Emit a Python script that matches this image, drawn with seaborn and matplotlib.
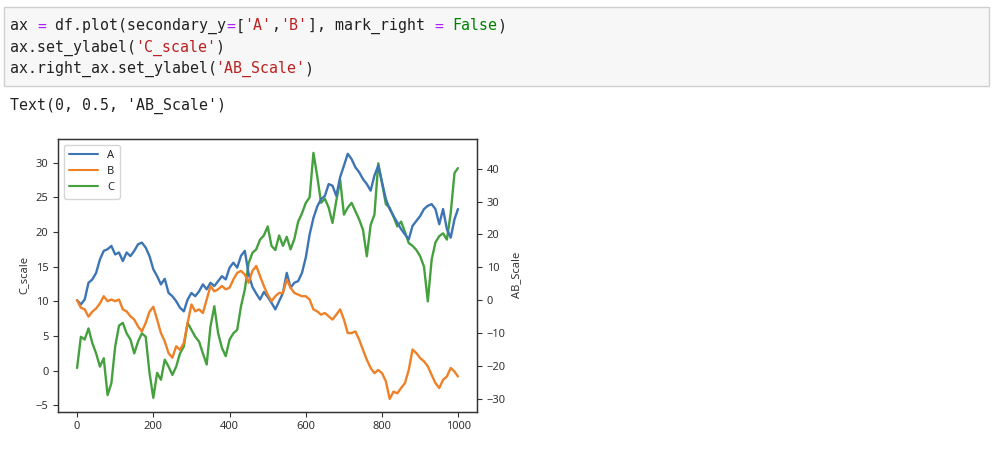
import numpy as np
import pandas as pd
import matplotlib
matplotlib.use("Agg")
import matplotlib.pyplot as plt
import seaborn as sns
from matplotlib.lines import Line2D

# index positions (read every 10 steps off the picture)
idx = list(range(0, 1000, 10)) + [999]

# series A and B sit on the secondary (right) axis
a_vals = [0, -1.3, 0.2, 5.3, 6.3, 8.3, 12.4, 15.0, 15.5, 16.5,
          13.9, 14.5, 11.9, 14.5, 13.4, 15.0, 17.0, 17.5, 16.0, 13.4,
          9.4, 7.3, 4.8, 6.5, 2.2, 1.2, -0.3, -2.3, -3.4, 0.2,
          2.2, 1.2, 2.7, 4.8, 3.3, 5.3, 4.3, 5.8, 7.3, 6.3,
          9.9, 11.4, 9.9, 13.5, 15.0, 8.0, 4.0, 2.0, 0.2, 2.5,
          1.0, -0.8, -2.8, -0.3, 2.2, 8.3, 3.8, 5.3, 5.8, 8.3,
          13.0, 20.0, 25.0, 28.5, 30.7, 31.7, 35.3, 34.8, 31.7, 37.4,
          40.9, 44.5, 42.9, 40.4, 38.9, 36.8, 35.3, 33.3, 37.9, 40.9,
          35.8, 30.7, 27.7, 25.6, 23.6, 21.6, 20.0, 18.5, 22.6, 24.1,
          25.6, 27.7, 28.7, 29.2, 27.7, 23.1, 27.7, 21.6, 19.0, 24.6,
          27.7]
b_vals = [0, -2.3, -2.8, -5.0, -3.5, -2.5, -1.0, 1.2, -0.3, 0.2,
          -0.3, 0.2, -2.8, -3.4, -4.9, -5.9, -8.0, -9.5, -6.9, -3.5,
          -2.0, -5.9, -10.0, -12.5, -16.1, -17.5, -14.0, -15.1, -13.0, -6.9,
          -1.3, -3.4, -2.8, -3.9, 0.2, 4.3, 2.7, 3.3, 4.3, 3.3,
          3.8, 6.3, 8.3, 8.9, 7.8, 5.3, 8.9, 10.4, 7.3, 4.3,
          1.7, -0.3, 1.2, 2.2, 2.2, 6.3, 3.8, 2.2, 1.7, 1.2,
          1.2, 0.2, -2.8, -3.4, -4.4, -3.9, -4.9, -5.9, -4.4, -2.8,
          -5.9, -10.0, -10.0, -9.5, -12.0, -15.1, -18.1, -20.6, -22.2, -21.2,
          -22.2, -24.7, -30.0, -27.8, -28.3, -26.7, -25.2, -21.2, -15.0, -16.1,
          -17.6, -18.6, -20.1, -22.7, -25.2, -26.7, -24.2, -23.2, -20.6, -21.7,
          -23.2]

# series C on the primary (left) axis
c_vals = [0.4, 4.9, 4.5, 6.1, 4.0, 2.5, 0.6, 1.8, -3.5, -1.8,
          3.5, 6.5, 6.9, 5.4, 4.5, 2.5, 4.2, 5.4, 4.9, -0.3,
          -3.9, -0.3, -1.3, 1.6, 0.6, -0.6, 0.6, 2.5, 3.5, 6.9,
          5.9, 4.9, 4.2, 2.5, 0.9, 6.4, 9.3, 5.4, 3.3, 2.1,
          4.5, 5.4, 5.9, 9.3, 11.7, 15.5, 17.0, 17.5, 18.9, 19.5,
          20.8, 18.0, 17.4, 19.5, 18.0, 19.3, 17.5, 19.0, 21.5, 22.7,
          24.2, 25.0, 31.4, 28.0, 24.2, 24.8, 23.5, 21.3, 24.5, 27.5,
          22.5, 23.5, 24.2, 23.0, 21.8, 20.3, 16.5, 21.0, 22.5, 29.9,
          27.0, 24.0, 23.5, 22.2, 20.8, 21.5, 20.0, 18.4, 18.0, 17.4,
          16.5, 15.0, 10.0, 16.0, 18.5, 19.4, 19.8, 18.9, 22.7, 28.5,
          29.2]

series_names = ["A", "B", "C"]
left_ticks = [-5, 0, 5, 10, 15, 20, 25, 30]
right_ticks = [-30, -20, -10, 0, 10, 20, 30, 40]
x_ticks = [0, 200, 400, 600, 800, 1000]

df = pd.DataFrame({"A": a_vals, "B": b_vals, "C": c_vals}, index=idx)

sns.set_theme(style="ticks")
plt.rcParams["font.family"] = ["Noto Sans", "DejaVu Sans"]
colors = ["#3d75b4", "#ee8128", "#45a03e"]
W, H = 997, 472

fig = plt.figure(figsize=(W / 100, H / 100), dpi=100)
fig.patch.set_facecolor("white")

# --- notebook code cell drawn as text ---
def px(x, y):
    return x / W, 1 - y / H

cell = plt.Rectangle(px(3.5, 86), (989 - 3.5) / W, (86 - 7.5) / H,
                     transform=fig.transFigure, facecolor="#f7f7f7",
                     edgecolor="#cfcfcf", lw=1)
fig.patches.append(cell)

mono = "DejaVu Sans Mono"
code_lines = [
    (26, 9.02, [("ax ", "#212121"), ("=", "#aa22ff"), (" df.plot(secondary_y", "#212121"),
                ("=", "#aa22ff"), ("[", "#212121"), ("'A'", "#ba2121"), (",", "#212121"),
                ("'B'", "#ba2121"), ("], mark_right ", "#212121"), ("=", "#aa22ff"),
                (" ", "#212121"), ("False", "#008000"), (")", "#212121")]),
    (47.5, 8.93, [("ax.set_ylabel(", "#212121"), ("'C_scale'", "#ba2121"), (")", "#212121")]),
    (68.5, 8.93, [("ax.right_ax.set_ylabel(", "#212121"), ("'AB_Scale'", "#ba2121"),
                  (")", "#212121")]),
    (106, 8.93, [("Text(0, 0.5, 'AB_Scale')", "#212121")]),
]
for y, cw, parts in code_lines:
    col = 0
    for txt, c in parts:
        fig.text(*px(10 + col * cw, y), txt, family=mono, fontsize=10.7,
                 color=c, va="center", ha="left")
        col += len(txt)

# --- the chart ---
ax = fig.add_axes([58 / W, 1 - 411.7 / H, (477 - 58) / W, (411.7 - 139) / H])
ax2 = ax.twinx()

sns.lineplot(data=df, x=df.index, y="C", ax=ax, color=colors[2], lw=1.7)
sns.lineplot(data=df, x=df.index, y="A", ax=ax2, color=colors[0], lw=1.7)
sns.lineplot(data=df, x=df.index, y="B", ax=ax2, color=colors[1], lw=1.7)

ax.set_xlim(-50, 1049)
ax.set_ylim(-5.9, 33.4)
ax2.set_ylim(-33.9, 49.0)
ax.set_xticks(x_ticks)
ax.set_yticks(left_ticks)
ax2.set_yticks(right_ticks)
ax.set_xlabel("")
ax.set_ylabel("C_scale", fontsize=8, color="#333333", labelpad=4)
ax2.set_ylabel("AB_Scale", fontsize=8, color="#333333", labelpad=4)

for a in (ax, ax2):
    a.tick_params(labelsize=8, colors="#333333", length=3.5, width=0.8)
    for s in a.spines.values():
        s.set_color("#333333")
        s.set_linewidth(0.9)

handles = [Line2D([], [], color=colors[i], lw=1.5) for i in range(3)]
leg = ax2.legend(handles, series_names, loc="upper left", fontsize=8,
                 frameon=True, handlelength=2.6, borderpad=0.5, labelspacing=0.45)
leg.get_frame().set_edgecolor("#cccccc")

fig.savefig("out.png", dpi=100)
